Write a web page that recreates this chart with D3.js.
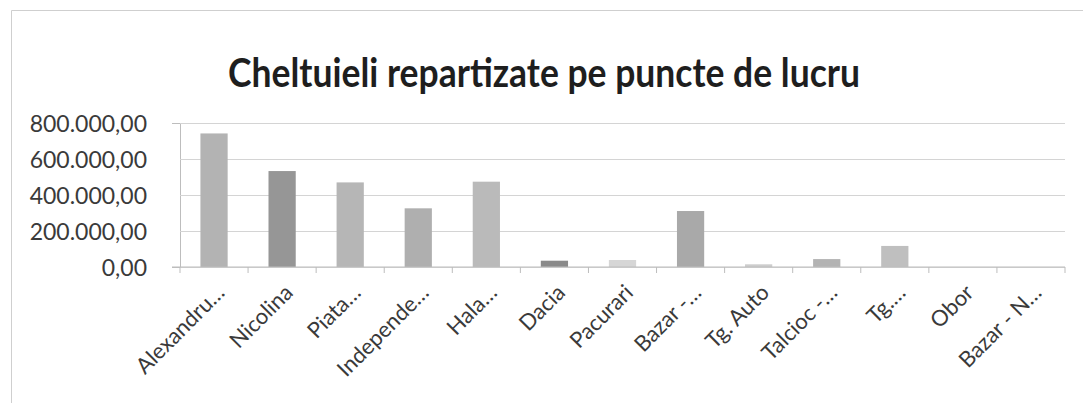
<!DOCTYPE html>
<html>
<head>
<meta charset="utf-8">
<script src="https://cdn.jsdelivr.net/npm/d3@7"></script>
<style>
	body { margin: 0; background: #fff; }
	svg { display: block; }
</style>
</head>
<body>
<div id="chart"></div>
<script>
const categories = ["Alexandru…", "Nicolina", "Piata…", "Independe…", "Hala…", "Dacia", "Pacurari", "Bazar -…", "Tg. Auto", "Talcioc -…", "Tg.…", "Obor", "Bazar - N…"];
const values = [742000, 533000, 470000, 326000, 474000, 35000, 39000, 311000, 15000, 44000, 117000, 0, 0];
const bar_colors = ["#b3b3b3", "#969696", "#b6b6b6", "#afafaf", "#bababa", "#8a8a8a", "#d6d6d6", "#a9a9a9", "#cdcdcd", "#b3b3b3", "#bfbfbf", "#bbbbbb", "#bbbbbb"];
const y_ticks = [0, 200000, 400000, 600000, 800000];
const title = "Cheltuieli repartizate pe puncte de lucru";

const W = 1083, H = 403;
const m = { left: 180, right: 18, top: 123, bottom: 136 };
const FONT = "Lato, 'Open Sans', sans-serif";

const svg = d3.select('#chart').append('svg')
	.attr('width', W)
	.attr('height', H);

// chart frame
svg.append('path')
	.attr('d', `M11.5,${H}V10.5H${W}`)
	.attr('fill', 'none')
	.attr('stroke', '#cfcfcf');

svg.append('text')
	.attr('x', 228)
	.attr('y', 87)
	.attr('textLength', 632)
	.attr('lengthAdjust', 'spacingAndGlyphs')
	.style('font-family', FONT)
	.style('font-weight', 'bold')
	.style('font-size', '40px')
	.attr('fill', '#1e1e1e')
	.text(title);

const x = d3.scaleBand()
	.domain(categories)
	.range([m.left, W - m.right])
	.paddingInner(0.6)
	.paddingOuter(0.3);

const y = d3.scaleLinear()
	.domain([0, 800000])
	.range([H - m.bottom, m.top]);

const fmt = d3.formatLocale({ decimal: ",", thousands: ".", grouping: [3], currency: ["", ""] }).format(",.2f");

// gridlines + y labels
const ya = svg.append('g')
	.attr('transform', `translate(${m.left},0)`)
	.call(d3.axisLeft(y).tickValues(y_ticks).tickSize(8).tickPadding(25).tickFormat(fmt));

ya.select('.domain').attr('stroke', '#bdbdbd');
ya.selectAll('.tick line')
	.attr('x2', W - m.right - m.left)
	.attr('stroke', '#d4d4d4');
ya.selectAll('.tick text')
	.style('font-family', FONT)
	.style('font-size', '23px')
	.attr('dy', '0.36em')
	.attr('fill', '#3a3a3a');

// bars
svg.append('g').selectAll('rect')
	.data(values)
	.enter().append('rect')
	.attr('x', (d, i) => x(categories[i]))
	.attr('y', d => y(d))
	.attr('width', x.bandwidth())
	.attr('height', d => y(0) - y(d))
	.attr('fill', (d, i) => bar_colors[i]);

// x axis
const step = x.step();
const xa = svg.append('g')
	.attr('transform', `translate(0,${y(0)})`);

xa.append('line')
	.attr('x1', m.left - 8)
	.attr('x2', W - m.right)
	.attr('stroke', '#bdbdbd');

xa.selectAll('.xt')
	.data(d3.range(categories.length + 1))
	.enter().append('line')
	.attr('class', 'xt')
	.attr('x1', i => m.left + i * step)
	.attr('x2', i => m.left + i * step)
	.attr('y2', 6)
	.attr('stroke', '#bdbdbd');

xa.selectAll('.xl')
	.data(categories)
	.enter().append('text')
	.attr('class', 'xl')
	.attr('text-anchor', 'end')
	.attr('transform', d => `translate(${x(d) + x.bandwidth() / 2 + 12},${27}) rotate(-45)`)
	.style('font-family', FONT)
	.style('font-size', '22px')
	.attr('fill', '#3a3a3a')
	.text(d => d);
</script>
</body>
</html>
